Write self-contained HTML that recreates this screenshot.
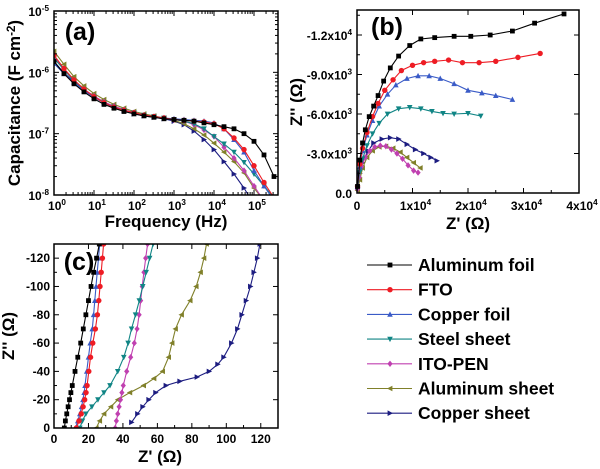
<!DOCTYPE html>
<html><head><meta charset="utf-8"><style>
html,body{margin:0;padding:0;background:#fff;}
svg{display:block;font-family:"Liberation Sans",Arial,sans-serif;font-weight:bold;}
</style></head><body>
<svg id="fig" width="600" height="469" viewBox="0 0 600 469" xmlns="http://www.w3.org/2000/svg"></svg>
<script>
// ---------- Series names / styles ----------
const seriesNames = ["Aluminum foil","FTO","Copper foil","Steel sheet","ITO-PEN","Aluminum sheet","Copper sheet"];
const seriesColors = ["#000000","#ee1c24","#3a5bc7","#108585","#c040b0","#80802a","#1c1c80"];
const seriesMarkers = ["square","circle","up","down","diamond","left","right"];

// ---------- Panel (a): capacitance vs frequency ----------
const logFreq = [0,0.25,0.5,0.75,1,1.25,1.5,1.75,2,2.25,2.5,2.75,3,3.25,3.5,3.75,4,4.25,4.5,4.75,5,5.25,5.5];
const capAlFoil = [1.5e-6,9.5e-7,6.5e-7,4.8e-7,3.7e-7,3.0e-7,2.6e-7,2.3e-7,2.1e-7,1.95e-7,1.85e-7,1.75e-7,1.7e-7,1.65e-7,1.6e-7,1.5e-7,1.4e-7,1.3e-7,1.2e-7,1.0e-7,7.5e-8,4.5e-8,2e-8];
const capFTO = [1.9e-6,1.15e-6,7.5e-7,5.3e-7,4.0e-7,3.2e-7,2.7e-7,2.4e-7,2.2e-7,2.0e-7,1.9e-7,1.8e-7,1.7e-7,1.65e-7,1.6e-7,1.55e-7,1.45e-7,1.2e-7,8.5e-8,5.5e-8,3e-8,1.6e-8,9e-9];
const capCuFoil = [1.4e-6,9.5e-7,6.8e-7,5.0e-7,3.9e-7,3.2e-7,2.7e-7,2.4e-7,2.2e-7,2.0e-7,1.9e-7,1.8e-7,1.75e-7,1.7e-7,1.65e-7,1.6e-7,1.5e-7,1.2e-7,8e-8,5e-8,2.5e-8,1.4e-8,8e-9];
const capSteel = [1.7e-6,1.1e-6,7.2e-7,5.2e-7,4.0e-7,3.2e-7,2.7e-7,2.4e-7,2.2e-7,2.0e-7,1.9e-7,1.8e-7,1.7e-7,1.6e-7,1.45e-7,1.2e-7,9e-8,6.8e-8,5e-8,3.4e-8,2.2e-8,1.4e-8,9e-9];
const capITO = [1.8e-6,1.15e-6,7.5e-7,5.3e-7,4.1e-7,3.3e-7,2.8e-7,2.45e-7,2.2e-7,2.0e-7,1.9e-7,1.8e-7,1.7e-7,1.6e-7,1.4e-7,1.15e-7,9e-8,6e-8,4e-8,2.5e-8,1.4e-8,8e-9,null];
const capAlSheet = [2.2e-6,1.35e-6,8.5e-7,6.0e-7,4.5e-7,3.6e-7,3.0e-7,2.6e-7,2.3e-7,2.1e-7,1.95e-7,1.8e-7,1.65e-7,1.45e-7,1.2e-7,9.5e-8,7e-8,5e-8,3.5e-8,2.3e-8,1.3e-8,8e-9,null];
const capCuSheet = [1.5e-6,9.8e-7,7.0e-7,5.2e-7,4.0e-7,3.2e-7,2.7e-7,2.35e-7,2.1e-7,1.95e-7,1.85e-7,1.75e-7,1.6e-7,1.4e-7,1.1e-7,8e-8,5.5e-8,3.5e-8,2.2e-8,1.3e-8,7e-9,null,null];
const freqTickExps = [0,1,2,3,4,5];
const capTickExps = [-8,-7,-6,-5];

// ---------- Panel (b): Nyquist full (kOhm) ----------
const nyqAlFoilX = [0.1,0.5,1,1.5,2.2,3,3.8,4.8,6,7.5,9.5,11.5,14,17.5,20.5,24,28,32,37.3];
const nyqAlFoilY = [0.5,2.5,3.8,4.8,5.8,6.6,7.4,8.5,9.5,10.4,11.2,11.7,11.8,11.9,11.9,12.0,12.3,12.9,13.6];
const nyqFTOX = [0.1,0.5,1,1.8,2.8,3.8,5,6.5,8,10,12,14,16.5,19,22,25,29,33];
const nyqFTOY = [0.5,2.2,3.4,4.6,5.8,6.8,7.8,8.6,9.3,9.7,9.9,10.0,10.1,9.9,9.9,10.0,10.3,10.6];
const nyqCuFoilX = [0.1,0.5,1,1.8,2.8,4,5.5,7,9,11,13,15,17.5,20,22.5,25,28];
const nyqCuFoilY = [0.5,2,3.2,4.4,5.5,6.6,7.5,8.2,8.7,8.9,8.9,8.7,8.3,7.8,7.6,7.4,7.1];
const nyqSteelX = [0.1,0.5,1,1.8,2.8,4,5.5,7.5,9.5,11.5,13.5,15.5,17.5,20,22.3];
const nyqSteelY = [0.4,1.6,2.6,3.6,4.5,5.3,6.0,6.4,6.5,6.4,6.2,6.05,6.0,6.05,5.85];
const nyqITOX = [0.1,0.4,0.8,1.5,2.3,3.2,4.2,5.2,6.2,7.2,8.2,9.2,10.2,11];
const nyqITOY = [0.3,1.2,2.0,2.7,3.2,3.5,3.6,3.55,3.3,3.0,2.6,2.1,1.7,1.55];
const nyqAlSheetX = [0.1,0.5,1,1.8,2.8,4,5.2,6.5,7.8,9,10.2,11.4];
const nyqAlSheetY = [0.2,1.0,1.9,2.7,3.2,3.5,3.55,3.4,3.1,2.7,2.3,1.9];
const nyqCuSheetX = [0.1,0.5,1,2,3,4.5,6,7.5,9,10.5,12,13.3,14.4];
const nyqCuSheetY = [0.4,1.5,2.3,3.2,3.8,4.1,4.2,4.1,3.7,3.3,3.0,2.7,2.45];
const nyqXTicks = [0,10,20,30,40];
const nyqXTickLabels = ["0","1x10","2x10","3x10","4x10"];
const nyqYTicks = [0,3,6,9,12];
const nyqYTickLabels = ["0.0","-3.0x10","-6.0x10","-9.0x10","-1.2x10"];
const nyqYTickExp = ["","3","3","3","4"];

// ---------- Panel (c): Nyquist zoom (Ohm) ----------
const hfAlFoilY = [0,5,10,15,20,25,30,40,50,60,70,80,90,100,110,120,130];
const hfAlFoilX = [6,6.6,7.4,8.2,9,9.8,10.6,12.2,13.8,15.5,17,18.5,20,21.5,23,24.7,26.3];
const hfFTOY = [0,5,10,15,20,25,30,40,50,60,70,80,90,100,110,120,130];
const hfFTOX = [13,14.5,15.8,16.9,17.8,18.6,19.2,20.2,21.2,22.5,24,25.2,26,26.7,27.4,28.1,28.8];
const hfCuFoilY = [0,5,10,15,20,25,30,40,50,60,70,80,90,100,110,120,130];
const hfCuFoilX = [12.5,13.8,15,16,16.8,17.5,18,19,20,21,22.2,23,23.7,24.4,25.1,25.8,26.5];
const hfSteelY = [0,5,10,15,20,25,30,40,50,60,70,80,90,100,110,120,130];
const hfSteelX = [15,16.5,18.5,22,25.5,29,32.5,37,40.5,43,45,47.3,49.5,51.5,53.5,55.5,57.5];
const hfITOY = [0,5,10,15,20,25,30,40,50,60,70,80,90,100,110,120,130];
const hfITOX = [35.5,36.2,37,37.8,38.6,39.4,40.2,42.2,44.5,46.6,48.2,49.4,50.3,51.2,52.2,53.2,54.3];
const hfAlSheetY = [0,5,10,15,20,25,30,35,40,50,60,70,80,90,100,110,120,130];
const hfAlSheetX = [24.5,26.5,29,33,37,44,52,58,63,66.5,68.5,70.5,74,79,82.5,85,87,88.5];
const hfCuSheetY = [4,10,15,20,25,30,33,36,40,45,50,60,70,80,90,100,110,120,130];
const hfCuSheetX = [45,48.5,51.5,55,59,65,73,83,90,95,98.5,103,106.5,109,111.5,114,116,118,119.5];
const hfXTicks = [0,20,40,60,80,100,120];
const hfYTicks = [0,20,40,60,80,100,120];

// ---------- helpers ----------
const NS = "http://www.w3.org/2000/svg";
const svg = document.getElementById("fig");
function mk(tag, attrs, parent){
  const e = document.createElementNS(NS, tag);
  for (const k in attrs) e.setAttribute(k, attrs[k]);
  (parent||svg).appendChild(e);
  return e;
}
function marker(g, type, x, y, color){
  const r = 2.4;
  let e;
  if (type==="square") e = mk("rect",{x:x-r,y:y-r,width:2*r,height:2*r,fill:color},g);
  else if (type==="circle") e = mk("circle",{cx:x,cy:y,r:r+0.3,fill:color},g);
  else {
    let p;
    if (type==="up") p=[[x,y-r-0.6],[x-r-0.4,y+r],[x+r+0.4,y+r]];
    else if (type==="down") p=[[x,y+r+0.6],[x-r-0.4,y-r],[x+r+0.4,y-r]];
    else if (type==="left") p=[[x-r-0.6,y],[x+r,y-r-0.4],[x+r,y+r+0.4]];
    else if (type==="right") p=[[x+r+0.6,y],[x-r,y-r-0.4],[x-r,y+r+0.4]];
    else p=[[x,y-r-0.8],[x+r+0.2,y],[x,y+r+0.8],[x-r-0.2,y]];
    e = mk("polygon",{points:p.map(q=>q.join(",")).join(" "),fill:color},g);
  }
  
  
}
function drawSeries(g, xs, ys, sx, sy, idx){
  const pts=[];
  for (let i=0;i<xs.length;i++){ if (ys[i]==null||xs[i]==null) continue; pts.push([sx(xs[i]),sy(ys[i])]); }
  const pl = mk("polyline",{points:pts.map(p=>p[0].toFixed(1)+","+p[1].toFixed(1)).join(" "),fill:"none",stroke:seriesColors[idx],"stroke-width":1.1},g);
  
  
  pts.forEach(p=>marker(g, seriesMarkers[idx], p[0], p[1], seriesColors[idx]));
}
function text(str, x, y, size, anchor, name, parent){
  const t = mk("text",{x:x,y:y,"font-size":size,"text-anchor":anchor||"middle",fill:"#000"},parent);
  t.textContent = str;
  
  
  return t;
}
function supText(base, sup, x, y, size, anchor, name){
  const t = mk("text",{x:x,y:y,"font-size":size,"text-anchor":anchor,fill:"#000"});
  
  
  const a = mk("tspan",{},t); a.textContent = base;
  if (sup!==""){ const b = mk("tspan",{dy:-5,"font-size":size*0.68},t); b.textContent = sup; }
  return t;
}

// ---------- Panel (a) ----------
(function(){
  const L=54,R=278,T=11,B=195;
  const sx = lf => L + lf*40;
  const sy = c => B - (Math.log10(c)+8)*(B-T)/3;
  const g = mk("g",{});  
  const cp = mk("clipPath",{id:"clipA"},g);
  mk("rect",{x:L,y:T,width:R-L,height:B-T},cp);
  const data = [capAlFoil,capFTO,capCuFoil,capSteel,capITO,capAlSheet,capCuSheet];
  const sg = mk("g",{"clip-path":"url(#clipA)"},g);
  for (let i=data.length-1;i>=0;i--) drawSeries(sg, logFreq, data[i], sx, sy, i);
  const frame = mk("rect",{x:L,y:T,width:R-L,height:B-T,fill:"none",stroke:"#000","stroke-width":1.5},g);
   
  for (let d=0; d<6; d++){
    for (let k=1;k<10;k++){
      const x = sx(d+Math.log10(k)); if (x>R) break;
      const len = k===1?5:3;
      mk("line",{x1:x,y1:B,x2:x,y2:B-len,stroke:"#000","stroke-width":1},g);
      mk("line",{x1:x,y1:T,x2:x,y2:T+len,stroke:"#000","stroke-width":1},g);
    }
  }
  freqTickExps.forEach(e=>supText("10", String(e), sx(e)+3, 210, 12, "middle", "x-tick-label-a"));
  capTickExps.forEach(e=>{
    const y = sy(Math.pow(10,e));
    mk("line",{x1:L,y1:y,x2:L+5,y2:y,stroke:"#000","stroke-width":1},g);
    mk("line",{x1:R,y1:y,x2:R-5,y2:y,stroke:"#000","stroke-width":1},g);
    if (e<-5) for (let k=2;k<10;k++){ const yy=sy(k*Math.pow(10,e)); mk("line",{x1:L,y1:yy,x2:L+3,y2:yy,stroke:"#000"},g); mk("line",{x1:R,y1:yy,x2:R-3,y2:yy,stroke:"#000"},g);}
    supText("10", String(e), 49, y+5, 12, "end", "y-tick-label-a");
  });
  text("Frequency (Hz)", 166, 227, 17, "middle", "x-axis-title-a");
  const yt = supText("Capacitance (F cm", "-2", 0, 0, 17, "middle", "y-axis-title-a");
  const tsp = mk("tspan",{dy:5},yt); tsp.textContent=")";
  yt.setAttribute("transform","translate(20,103) rotate(-90)");
  text("(a)", 80, 40, 25, "middle", "panel-label-a");
})();

// ---------- Panel (b) ----------
(function(){
  const L=357,R=579,T=10,B=193;
  const sx = v => L + v*(R-L)/40;
  const sy = v => B - v*(B-35)/12;
  const g = mk("g",{});  
  const xs=[nyqAlFoilX,nyqFTOX,nyqCuFoilX,nyqSteelX,nyqITOX,nyqAlSheetX,nyqCuSheetX];
  const ys=[nyqAlFoilY,nyqFTOY,nyqCuFoilY,nyqSteelY,nyqITOY,nyqAlSheetY,nyqCuSheetY];
  for (let i=xs.length-1;i>=0;i--) drawSeries(g, xs[i], ys[i], sx, sy, i);
  const frame = mk("rect",{x:L,y:T,width:R-L,height:B-T,fill:"none",stroke:"#000","stroke-width":1.5},g);
   
  nyqXTicks.forEach((v,i)=>{
    const x=sx(v);
    mk("line",{x1:x,y1:B,x2:x,y2:B-5,stroke:"#000"},g); mk("line",{x1:x,y1:T,x2:x,y2:T+5,stroke:"#000"},g);
    if (i<4){ const xm=sx(v+5); mk("line",{x1:xm,y1:B,x2:xm,y2:B-3,stroke:"#000"},g); }
    supText(nyqXTickLabels[i], i===0?"":"4", x+(i===0?0:3), 210, 12, "middle", "x-tick-label-b");
  });
  nyqYTicks.forEach((v,i)=>{
    const y=sy(v);
    mk("line",{x1:L,y1:y,x2:L+5,y2:y,stroke:"#000"},g); mk("line",{x1:R,y1:y,x2:R-5,y2:y,stroke:"#000"},g);
    const ym=sy(v+1.5); if (ym>T){ mk("line",{x1:L,y1:ym,x2:L+3,y2:ym,stroke:"#000"},g); }
    supText(nyqYTickLabels[i], nyqYTickExp[i], 352, y+5, 12, "end", "y-tick-label-b");
  });
  text("Z' (\u03A9)", 468, 229, 17, "middle", "x-axis-title-b");
  const yt = text("Z'' (\u03A9)", 0, 0, 17, "middle", "y-axis-title-b");
  yt.setAttribute("transform","translate(302,102) rotate(-90)");
  text("(b)", 387, 35, 25, "middle", "panel-label-b");
})();

// ---------- Panel (c) ----------
(function(){
  const L=54,R=278,T=244,B=428;
  const sx = v => L + v*(R-L)/130;
  const sy = v => B - v*(B-T)/130;
  const g = mk("g",{});  
  const cp = mk("clipPath",{id:"clipC"},g);
  mk("rect",{x:L,y:T,width:R-L,height:B-T},cp);
  const xs=[hfAlFoilX,hfFTOX,hfCuFoilX,hfSteelX,hfITOX,hfAlSheetX,hfCuSheetX];
  const ys=[hfAlFoilY,hfFTOY,hfCuFoilY,hfSteelY,hfITOY,hfAlSheetY,hfCuSheetY];
  const sg = mk("g",{"clip-path":"url(#clipC)"},g);
  for (let i=xs.length-1;i>=0;i--) drawSeries(sg, xs[i], ys[i], sx, sy, i);
  const frame = mk("rect",{x:L,y:T,width:R-L,height:B-T,fill:"none",stroke:"#000","stroke-width":1.5},g);
   
  hfXTicks.forEach(v=>{
    const x=sx(v);
    mk("line",{x1:x,y1:B,x2:x,y2:B-5,stroke:"#000"},g); mk("line",{x1:x,y1:T,x2:x,y2:T+5,stroke:"#000"},g);
    const xm=sx(v+10); mk("line",{x1:xm,y1:B,x2:xm,y2:B-3,stroke:"#000"},g);
    text(String(v), x, 443, 12, "middle", "x-tick-label-c");
  });
  hfYTicks.forEach(v=>{
    const y=sy(v);
    mk("line",{x1:L,y1:y,x2:L+5,y2:y,stroke:"#000"},g); mk("line",{x1:R,y1:y,x2:R-5,y2:y,stroke:"#000"},g);
    const ym=sy(v+10); mk("line",{x1:L,y1:ym,x2:L+3,y2:ym,stroke:"#000"},g);
    text(v===0?"0":"-"+v, 50, y+4, 12, "end", "y-tick-label-c");
  });
  text("Z' (\u03A9)", 160, 462, 17, "middle", "x-axis-title-c");
  const yt = text("Z'' (\u03A9)", 0, 0, 17, "middle", "y-axis-title-c");
  yt.setAttribute("transform","translate(14,336) rotate(-90)");
  text("(c)", 79, 270, 25, "middle", "panel-label-c");
})();

// ---------- Legend ----------
(function(){
  const g = mk("g",{});  
  seriesNames.forEach((n,i)=>{
    const y = 265 + i*24.7;
    const eg = mk("g",{},g);
    
    
    mk("line",{x1:367,y1:y,x2:412,y2:y,stroke:seriesColors[i],"stroke-width":1.1},eg);
    marker(eg, seriesMarkers[i], 390, y, seriesColors[i]);
    text(n, 418, y+6, 17.5, "start", "legend-label", eg);
  });
})();
</script>
</body></html>
